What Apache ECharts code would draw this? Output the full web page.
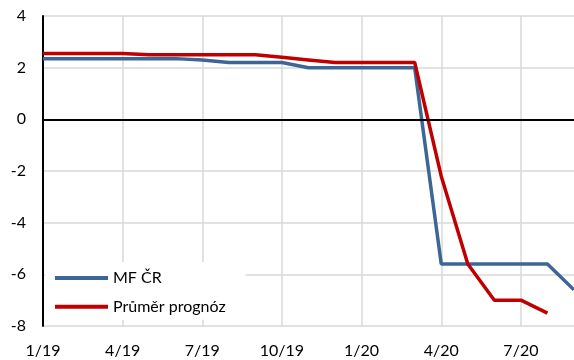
<!DOCTYPE html>
<html>
<head>
<meta charset="utf-8">
<script src="https://cdn.jsdelivr.net/npm/echarts@6/dist/echarts.min.js"></script>
<style>
  html, body { margin: 0; padding: 0; background: #fff; }
  #chart { width: 574px; height: 360px; }
</style>
</head>
<body>
<div id="chart"></div>
<script>
// měsíce (osa x)
const months = ["1/19", "2/19", "3/19", "4/19", "5/19", "6/19", "7/19", "8/19", "9/19", "10/19", "11/19", "12/19",
  "1/20", "2/20", "3/20", "4/20", "5/20", "6/20", "7/20", "8/20", "9/20"];
// prognóza MF ČR
const mfCr = [2.35, 2.35, 2.35, 2.35, 2.35, 2.35, 2.3, 2.2, 2.2, 2.2, 2.0, 2.0, 2.0, 2.0, 2.0,
  -5.6, -5.6, -5.6, -5.6, -5.6, -6.6];
// průměr prognóz
const prumer = [2.55, 2.55, 2.55, 2.55, 2.5, 2.5, 2.5, 2.5, 2.5, 2.4, 2.3, 2.2, 2.2, 2.2, 2.2,
  -2.2, -5.6, -7.0, -7.0, -7.5, null];

const font = "Lato, 'Open Sans', sans-serif";
const chart = echarts.init(document.getElementById("chart"));

chart.setOption({
  animation: false,
  grid: { left: 43, right: -2, top: 16, bottom: 34 },
  legend: {
    orient: "vertical",
    left: 45,
    top: 262,
    padding: [7, 20, 4, 10],
    backgroundColor: "#fff",
    itemWidth: 53,
    itemHeight: 4,
    itemGap: 10.7,
    textStyle: { fontFamily: font, fontSize: 16, color: "#000", lineHeight: 18 },
    data: [
      { name: "MF ČR", icon: "rect" },
      { name: "Průměr prognóz", icon: "rect" }
    ]
  },
  xAxis: {
    type: "category",
    data: months,
    boundaryGap: false,
    axisLine: { show: false, onZero: false },
    axisTick: { show: false },
    axisLabel: { interval: 2, margin: 17, fontFamily: font, fontSize: 16, color: "#000" },
    splitLine: { show: true, interval: 2, lineStyle: { color: "#d9d9d9", width: 1.5 } }
  },
  yAxis: {
    type: "value",
    min: -8,
    max: 4,
    interval: 2,
    axisLine: { show: true, lineStyle: { color: "#000", width: 2 } },
    axisTick: { show: false },
    axisLabel: { margin: 17, fontFamily: font, fontSize: 16, color: "#000" },
    splitLine: { lineStyle: { color: "#d9d9d9", width: 1.5 } }
  },
  series: [
    {
      name: "MF ČR",
      type: "line",
      data: mfCr,
      symbol: "none",
      color: "#3b6696",
      lineStyle: { width: 3.5, color: "#3b6696" },
      z: 3,
      markLine: {
        silent: true,
        symbol: "none",
        label: { show: false },
        lineStyle: { color: "#000", width: 2, type: "solid" },
        data: [{ yAxis: 0 }]
      }
    },
    {
      name: "Průměr prognóz",
      type: "line",
      data: prumer,
      symbol: "none",
      color: "#c00000",
      lineStyle: { width: 3.5, color: "#c00000" },
      z: 4
    }
  ]
});
</script>
</body>
</html>
